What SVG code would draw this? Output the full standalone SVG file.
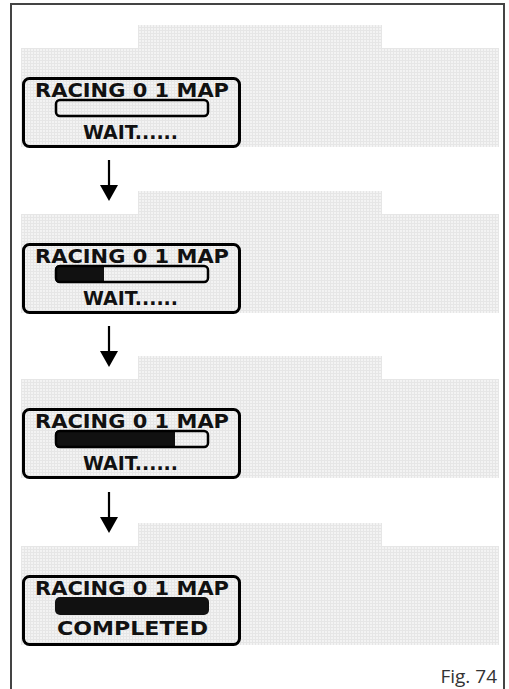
<svg xmlns="http://www.w3.org/2000/svg" width="509" height="689" viewBox="0 0 509 689">
<defs>
<pattern id="dots" width="3" height="3" patternUnits="userSpaceOnUse">
<rect width="3" height="3" fill="#f3f3f3"/>
<rect width="1" height="3" fill="#e6e6e6"/>
<rect width="3" height="1" fill="#e6e6e6"/>
</pattern>
<path id="panel" d="M21,48 H138 V25 H382 V48 H499 V147 H21 Z"/>
</defs>
<style>
.panel{fill:url(#dots);stroke:none}
.lcd{fill:none;stroke:#000;stroke-width:3}
.bar{fill:none;stroke:#000;stroke-width:2.5}
.fill{fill:#111;stroke:none}
.lcdt{font-family:"DejaVu Sans","Liberation Sans",sans-serif;font-weight:bold;font-size:19px;fill:#111}
.conn line{stroke:#000;stroke-width:2.2}
.conn polygon{fill:#000}
.fig{font-family:"Open Sans","Noto Sans",sans-serif;font-size:19px;fill:#333}
</style>
<rect width="509" height="689" fill="#fff"/>
<path d="M11,689 V4 H504 V689" fill="none" stroke="#444" stroke-width="2"/>
<use href="#panel" class="panel"/>
<use href="#panel" class="panel" transform="translate(0,166)"/>
<use href="#panel" class="panel" transform="translate(0,331)"/>
<use href="#panel" class="panel" transform="translate(0,498)"/>
<g id="lcd1">
<rect class="lcd" x="23.5" y="78.5" width="216" height="68" rx="6"/>
<text class="lcdt" x="35" y="97" textLength="194" lengthAdjust="spacingAndGlyphs">RACING 0 1 MAP</text>
<rect class="bar" x="56" y="100" width="152" height="16" rx="4"/>
<text class="lcdt" x="83" y="139" textLength="95" lengthAdjust="spacingAndGlyphs">WAIT......</text>
</g>
<g id="lcd2" transform="translate(0,166)">
<rect class="lcd" x="23.5" y="78.5" width="216" height="68" rx="6"/>
<text class="lcdt" x="35" y="97" textLength="194" lengthAdjust="spacingAndGlyphs">RACING 0 1 MAP</text>
<path class="fill" d="M104,99 H60 Q55,99 55,104 V112 Q55,117 60,117 H104 Z"/>
<rect class="bar" x="56" y="100" width="152" height="16" rx="4"/>
<text class="lcdt" x="83" y="139" textLength="95" lengthAdjust="spacingAndGlyphs">WAIT......</text>
</g>
<g id="lcd3" transform="translate(0,331)">
<rect class="lcd" x="23.5" y="78.5" width="216" height="68" rx="6"/>
<text class="lcdt" x="35" y="97" textLength="194" lengthAdjust="spacingAndGlyphs">RACING 0 1 MAP</text>
<path class="fill" d="M175,99 H60 Q55,99 55,104 V112 Q55,117 60,117 H175 Z"/>
<rect class="bar" x="56" y="100" width="152" height="16" rx="4"/>
<text class="lcdt" x="83" y="139" textLength="95" lengthAdjust="spacingAndGlyphs">WAIT......</text>
</g>
<g id="lcd4" transform="translate(0,498)">
<rect class="lcd" x="23.5" y="78.5" width="216" height="68" rx="6"/>
<text class="lcdt" x="35" y="97" textLength="194" lengthAdjust="spacingAndGlyphs">RACING 0 1 MAP</text>
<rect class="fill" x="55" y="99" width="154" height="18" rx="5"/>
<text class="lcdt" x="57" y="137" textLength="151" lengthAdjust="spacingAndGlyphs">COMPLETED</text>
</g>
<g id="connectors" class="conn">
<line x1="109" y1="160" x2="109" y2="186"/>
<polygon points="100,185 118,185 109,201"/>
<line x1="109" y1="326" x2="109" y2="352"/>
<polygon points="100,351 118,351 109,367"/>
<line x1="109" y1="492" x2="109" y2="518"/>
<polygon points="100,517 118,517 109,533"/>
</g>
<text class="fig" x="497" y="683" text-anchor="end">Fig. 74</text>
</svg>
